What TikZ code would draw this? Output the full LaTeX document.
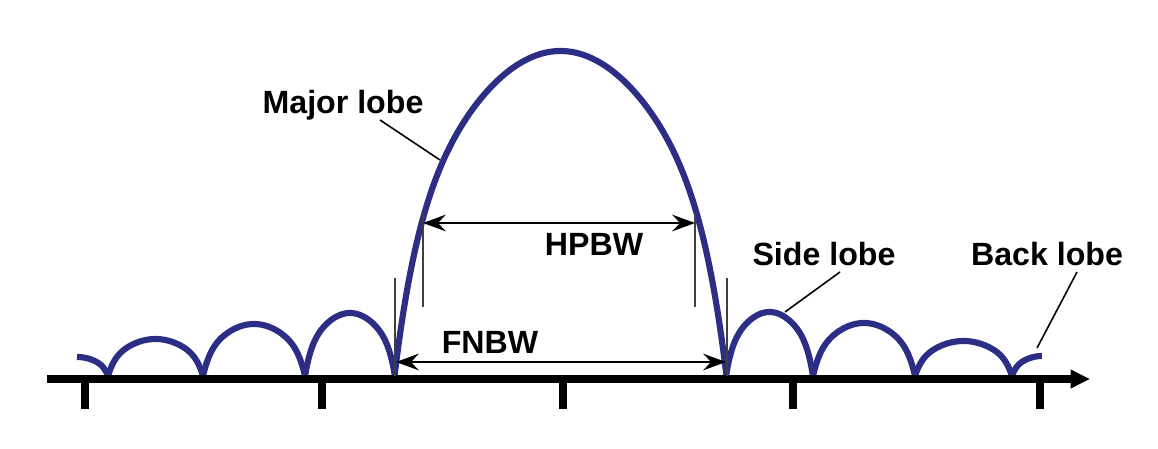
\documentclass[tikz,border=0pt]{standalone}
\usepackage{fontspec}
\setmainfont{Liberation Sans}
\usetikzlibrary{arrows.meta}
\definecolor{lobeblue}{RGB}{44,46,134}
% lobe profile: h = H*(1 - 0.63 u^2 - 0.37 u^8), u in [-1,1]
\newcommand\lobeplot[4]{%
  \draw[lobe] plot[domain=#4,samples=150] ({#1+#2*\x},{376-#3*(1-0.63*\x*\x-0.37*(\x*\x)^4)});}
\begin{document}
\begin{tikzpicture}[x=0.02cm,y=-0.02cm,
  lobe/.style={draw=lobeblue,line width=3.5pt,line join=round},
  axisline/.style={line width=4pt,-{Triangle[length=11pt,width=10pt]}},
  tickmark/.style={line width=4.5pt},
  dimline/.style={line width=0.9pt,{Stealth[length=13pt,width=9.5pt,inset=4.5pt]}-{Stealth[length=13pt,width=9.5pt,inset=4.5pt]}},
  extline/.style={line width=0.8pt,black!75},
  leader/.style={line width=0.9pt},
  lbl/.style={font=\fontsize{18.3pt}{21pt}\selectfont\bfseries,anchor=base,inner sep=0pt}]
\useasboundingbox (0,0) rectangle (1158,449);
% lobes
\lobeplot{77}{31}{19}{0:1}
\lobeplot{155.5}{47.5}{37}{-1:1}
\lobeplot{254}{51}{52}{-1:1}
\lobeplot{350}{45}{63}{-1:1}
\lobeplot{560.5}{166}{325}{-1:1}
\lobeplot{769.5}{43.5}{64}{-1:1}
\lobeplot{864}{51}{53}{-1:1}
\lobeplot{963.5}{48.5}{35}{-1:1}
\lobeplot{1042}{30}{20}{-1:0}
% axis
\coordinate (axA) at (47,379);
\coordinate (axB) at (1090,379);
\draw[axisline] (axA) -- (axB);
\foreach \t/\xx in {t1/85,t2/322,t3/563,t4/793,t5/1040}{
  \coordinate (\t a) at (\xx,377);
  \coordinate (\t b) at (\xx,409);
  \draw[tickmark] (\t a) -- (\t b);
}
% extension lines
\coordinate (h1a) at (423,213); \coordinate (h1b) at (423,307);
\coordinate (h2a) at (695,213); \coordinate (h2b) at (695,307);
\coordinate (f1a) at (395,278); \coordinate (f1b) at (395,376);
\coordinate (f2a) at (727,278); \coordinate (f2b) at (727,376);
\draw[extline] (h1a) -- (h1b);
\draw[extline] (h2a) -- (h2b);
\draw[extline] (f1a) -- (f1b);
\draw[extline] (f2a) -- (f2b);
% dimension arrows
\coordinate (hpL) at (423,223); \coordinate (hpR) at (695,223);
\coordinate (fnL) at (396,362); \coordinate (fnR) at (726,362);
\draw[dimline] (hpL) -- (hpR);
\draw[dimline] (fnL) -- (fnR);
% labels
\node[lbl] (major) at (343,114) {Major lobe};
\node[lbl] (hpbw) at (594,255) {HPBW};
\node[lbl] (fnbw) at (490,353) {FNBW};
\node[lbl] (side) at (824,265) {Side lobe};
\node[lbl] (back) at (1047,265) {Back lobe};
% leaders
\coordinate (mA) at (380,120); \coordinate (mB) at (440,160);
\coordinate (sA) at (840,272); \coordinate (sB) at (785,312);
\coordinate (bA) at (1077,272); \coordinate (bB) at (1037,348);
\draw[leader] (mA) -- (mB);
\draw[leader] (sA) -- (sB);
\draw[leader] (bA) -- (bB);
\end{tikzpicture}
\end{document}
